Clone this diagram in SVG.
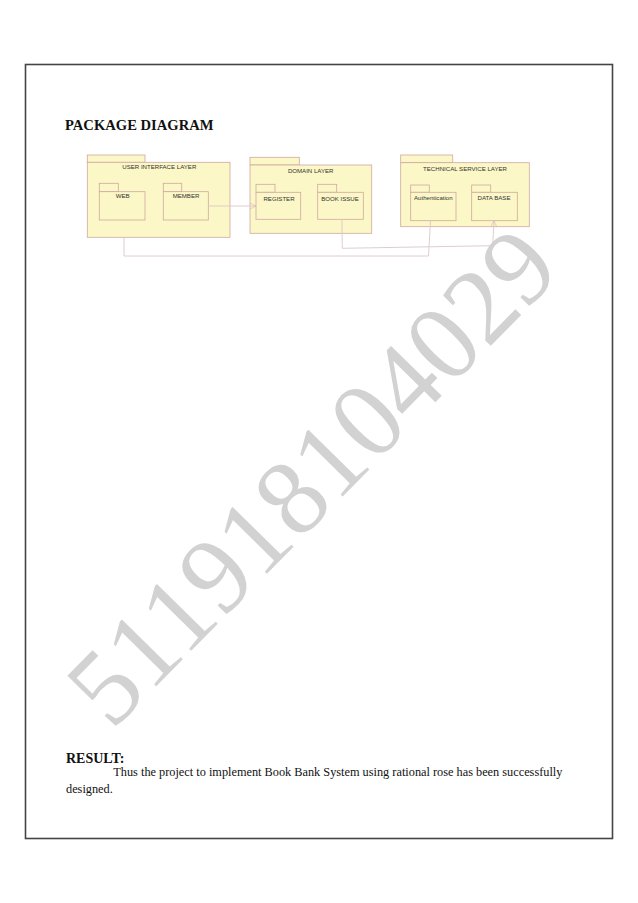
<svg xmlns="http://www.w3.org/2000/svg" width="638" height="903" viewBox="0 0 638 903">
<style>
.pkg{fill:#fcf7c6;stroke:#cfa8a0;stroke-width:0.8}
.lbl{font-family:"Liberation Sans",Arial,sans-serif;font-size:6.1px;fill:#333;text-anchor:middle}
.conn{fill:none;stroke:#dcc6cb;stroke-width:0.9}
.head{fill:none;stroke:#c9a8ae;stroke-width:0.8}
.serif{font-family:"Liberation Serif","Times New Roman",serif;fill:#111}
</style>
<defs>
<marker id="open" viewBox="0 0 10 10" refX="10" refY="5" markerWidth="6" markerHeight="6" markerUnits="userSpaceOnUse" orient="auto">
<path d="M0,0 L10,5 L0,10" class="head"/>
</marker>
</defs>
<rect width="638" height="903" fill="#fff"/>
<g id="watermark">
<text transform="translate(311,476) rotate(-45.5)" x="0" y="37" font-family="Liberation Serif, serif" font-size="108" fill="#d2d2d2" text-anchor="middle">511918104029</text>
</g>
<rect id="page-border" x="25.5" y="64.5" width="587" height="774" fill="none" stroke="#444" stroke-width="1.6"/>
<text class="serif" x="65" y="129.5" font-size="14.6" font-weight="bold">PACKAGE DIAGRAM</text>

<g id="user-interface-layer">
<rect class="pkg" x="87.3" y="155" width="57.7" height="7.3"/>
<rect class="pkg" x="87.3" y="162.3" width="142.7" height="75"/>
<text class="lbl" x="159.3" y="168.9">USER INTERFACE LAYER</text>
</g>
<g id="web">
<rect class="pkg" x="99.3" y="183.3" width="19" height="8.4"/>
<rect class="pkg" x="99.3" y="191.7" width="45.7" height="28.3"/>
<text class="lbl" x="122.7" y="198.2">WEB</text>
</g>
<g id="member">
<rect class="pkg" x="163.3" y="183.3" width="18.4" height="8.4"/>
<rect class="pkg" x="163.3" y="191.7" width="45" height="28.3"/>
<text class="lbl" x="186" y="198.2">MEMBER</text>
</g>

<g id="domain-layer">
<rect class="pkg" x="250" y="157.3" width="49.3" height="7.7"/>
<rect class="pkg" x="250" y="165" width="121.7" height="68.3"/>
<text class="lbl" x="310.7" y="172.9">DOMAIN LAYER</text>
</g>
<g id="register">
<rect class="pkg" x="256" y="184.3" width="19" height="8"/>
<rect class="pkg" x="256" y="192.3" width="44.7" height="27"/>
<text class="lbl" x="279" y="200.5">REGISTER</text>
</g>
<g id="book-issue">
<rect class="pkg" x="317.7" y="184.3" width="19" height="8"/>
<rect class="pkg" x="317.7" y="192.3" width="45.6" height="27"/>
<text class="lbl" x="340" y="200.5">BOOK ISSUE</text>
</g>

<g id="technical-service-layer">
<rect class="pkg" x="400.7" y="155" width="52" height="7.7"/>
<rect class="pkg" x="400.7" y="162.7" width="128.6" height="64"/>
<text class="lbl" x="465" y="170.5">TECHNICAL SERVICE LAYER</text>
</g>
<g id="authentication">
<rect class="pkg" x="410.7" y="185" width="18.6" height="7.3"/>
<rect class="pkg" x="410.7" y="192.3" width="45.3" height="28.4"/>
<text class="lbl" x="433.3" y="199.9">Authentication</text>
</g>
<g id="data-base">
<rect class="pkg" x="471.7" y="185" width="19" height="7.3"/>
<rect class="pkg" x="471.7" y="192.3" width="45.6" height="28.4"/>
<text class="lbl" x="494" y="199.9">DATA BASE</text>
</g>

<g id="connectors">
<path class="conn" d="M208.3,206 L256,206" marker-end="url(#open)"/>
<path class="conn" d="M124,237.3 L124,256 L428.5,256 L430.5,220.7"/>
<path class="conn" d="M341.9,219.3 L342.3,248.3 L492.7,245.7 L494,220.7" marker-end="url(#open)"/>
</g>

<text class="serif" x="66" y="763" font-size="14" font-weight="bold">RESULT:</text>
<text class="serif" x="113.3" y="776" font-size="12.3">Thus the project to implement Book Bank System using rational rose has been successfully</text>
<text class="serif" x="66" y="793.3" font-size="12.3">designed.</text>
</svg>
